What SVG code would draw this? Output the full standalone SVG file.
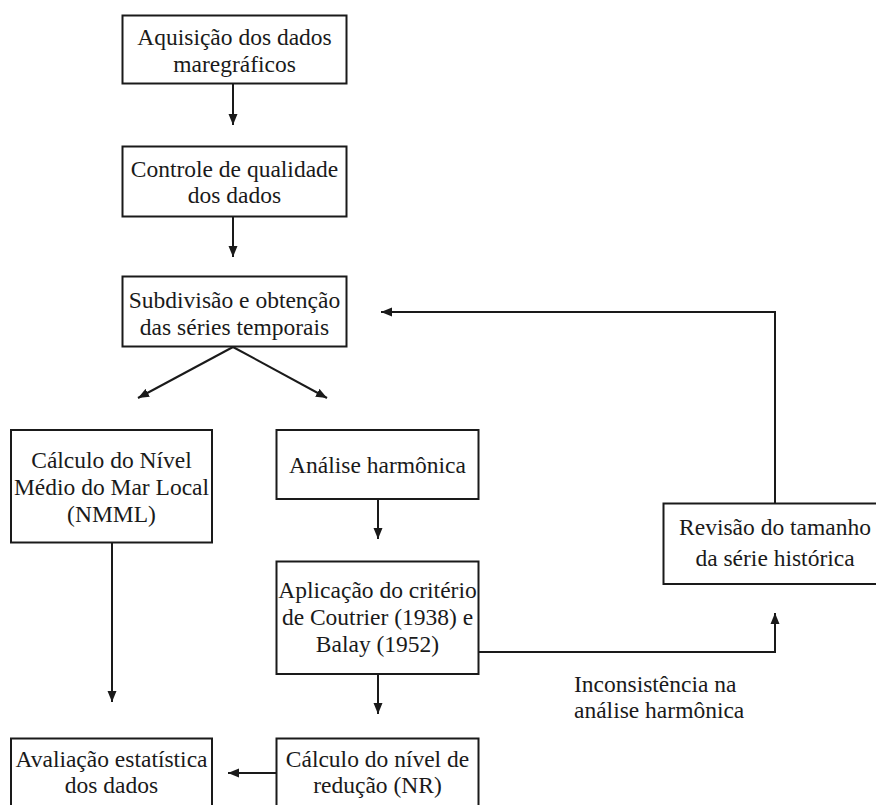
<svg xmlns="http://www.w3.org/2000/svg" width="876" height="805" viewBox="0 0 876 805">
<style>
.box{fill:#fff;stroke:#1a1a1a;stroke-width:2}
.t{font-family:'Liberation Serif','Times New Roman',serif;font-size:23.5px;fill:#1a1a1a;text-anchor:middle}
.l{font-family:'Liberation Serif','Times New Roman',serif;font-size:23.5px;fill:#1a1a1a}
.c{fill:none;stroke:#1a1a1a;stroke-width:2}
</style>
<defs>
<marker id="ah" markerUnits="userSpaceOnUse" markerWidth="12" markerHeight="10" refX="11" refY="5" orient="auto">
<path d="M0,0.5 L11,5 L0,9.5 z" fill="#1a1a1a"/>
</marker>
</defs>
<rect width="876" height="805" fill="#fff"/>
<g id="connectors">
<line class="c" x1="233" y1="84" x2="233" y2="125" marker-end="url(#ah)"/>
<line class="c" x1="233" y1="217" x2="233" y2="257" marker-end="url(#ah)"/>
<line class="c" x1="233" y1="347" x2="138" y2="398" marker-end="url(#ah)"/>
<line class="c" x1="233" y1="347" x2="327" y2="398" marker-end="url(#ah)"/>
<line class="c" x1="112" y1="543" x2="112" y2="702" marker-end="url(#ah)"/>
<line class="c" x1="378" y1="499" x2="378" y2="539" marker-end="url(#ah)"/>
<line class="c" x1="378" y1="674" x2="378" y2="714" marker-end="url(#ah)"/>
<line class="c" x1="277" y1="773" x2="228" y2="773" marker-end="url(#ah)"/>
<polyline class="c" points="478,652 775,652 775,613" marker-end="url(#ah)"/>
<polyline class="c" points="775,503 775,312 381,312" marker-end="url(#ah)"/>
</g>
<g id="n1">
<rect class="box" x="122.5" y="15.5" width="224" height="68"/>
<text class="t" x="234.5" y="45">Aquisição dos dados</text>
<text class="t" x="234.5" y="72">maregráficos</text>
</g>
<g id="n2">
<rect class="box" x="122.5" y="146.5" width="224" height="70"/>
<text class="t" x="234.5" y="177">Controle de qualidade</text>
<text class="t" x="234.5" y="203">dos dados</text>
</g>
<g id="n3">
<rect class="box" x="122.5" y="276.5" width="224" height="70"/>
<text class="t" x="234.5" y="308">Subdivisão e obtenção</text>
<text class="t" x="234.5" y="335">das séries temporais</text>
</g>
<g id="n4">
<rect class="box" x="11" y="430" width="201" height="112.5"/>
<text class="t" x="111.5" y="468">Cálculo do Nível</text>
<text class="t" x="111.5" y="495">Médio do Mar Local</text>
<text class="t" x="111.5" y="522">(NMML)</text>
</g>
<g id="n5">
<rect class="box" x="276.5" y="430" width="202" height="69"/>
<text class="t" x="377.5" y="473">Análise harmônica</text>
</g>
<g id="n6">
<rect class="box" x="276.5" y="561.5" width="202" height="112.5"/>
<text class="t" x="377.5" y="598">Aplicação do critério</text>
<text class="t" x="377.5" y="625">de Coutrier (1938) e</text>
<text class="t" x="377.5" y="652">Balay (1952)</text>
</g>
<g id="n7">
<rect class="box" x="276.5" y="738.5" width="202" height="90"/>
<text class="t" x="377.5" y="767">Cálculo do nível de</text>
<text class="t" x="377.5" y="793">redução (NR)</text>
</g>
<g id="n8">
<rect class="box" x="11" y="738.5" width="201" height="90"/>
<text class="t" x="111.5" y="767">Avaliação estatística</text>
<text class="t" x="111.5" y="793">dos dados</text>
</g>
<g id="n9">
<rect class="box" x="663.5" y="503.5" width="230" height="80.5"/>
<text class="t" x="775" y="535">Revisão do tamanho</text>
<text class="t" x="775" y="566">da série histórica</text>
</g>
<g id="label">
<text class="l" x="574" y="692">Inconsistência na</text>
<text class="l" x="574" y="718">análise harmônica</text>
</g>
</svg>
